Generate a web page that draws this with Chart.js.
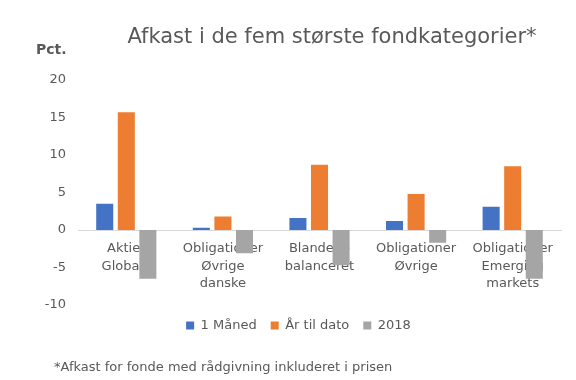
<!DOCTYPE html>
<html>
<head>
<meta charset="utf-8">
<script src="https://cdn.jsdelivr.net/npm/chart.js@4.4.1/dist/chart.umd.min.js"></script>
<style>
  html, body { margin: 0; padding: 0; background: #fff; }
  #wrap { width: 576px; height: 380px; }
</style>
</head>
<body>
<div id="wrap"><canvas id="afkastChart" width="576" height="380"></canvas></div>
<script>
const categories = [
    ["Aktier", "Globale"],
    ["Obligationer", "Øvrige", "danske"],
    ["Blandede", "balanceret"],
    ["Obligationer", "Øvrige"],
    ["Obligationer", "Emerging", "markets"],
];
const maaned = [3.5, 0.3, 1.6, 1.2, 3.1];
const aarTilDato = [15.7, 1.8, 8.7, 4.8, 8.5];
const aar2018 = [-6.5, -3.1, -4.7, -1.7, -6.5];
const yTicks = [-10, -5, 0, 5, 10, 15, 20];

const textColor = "#595959";
const fontFamily = "'DejaVu Sans', sans-serif";

// Titel, "Pct." og fodnote
const extraText = {
    id: "extraText",
    afterDraw(chart) {
        const ctx = chart.ctx;
        ctx.save();
        ctx.fillStyle = textColor;
        ctx.textBaseline = "middle";
        ctx.textAlign = "center";
        ctx.font = "21px " + fontFamily;
        ctx.fillText("Afkast i de fem største fondkategorier*", 332, 38);
        ctx.textAlign = "left";
        ctx.font = "bold 14px " + fontFamily;
        ctx.fillText("Pct.", 36, 50);
        ctx.font = "13px " + fontFamily;
        ctx.fillText("*Afkast for fonde med rådgivning inkluderet i prisen", 54, 368);
        ctx.restore();
    },
};

Chart.defaults.font.family = fontFamily;
Chart.defaults.color = textColor;

new Chart(document.getElementById("afkastChart"), {
    type: "bar",
    data: {
        labels: categories,
        datasets: [
            { label: "1 Måned", data: maaned, backgroundColor: "#4472C4" },
            { label: "År til dato", data: aarTilDato, backgroundColor: "#ED7D31" },
            { label: "2018", data: aar2018, backgroundColor: "#A5A5A5" },
        ],
    },
    options: {
        responsive: false,
        animation: false,
        categoryPercentage: 0.67,
        barPercentage: 0.79,
        layout: {
            padding: { top: 80, right: 15, bottom: 38, left: 36 },
        },
        plugins: {
            legend: {
                position: "bottom",
                labels: {
                    boxWidth: 8,
                    boxHeight: 8,
                    padding: 14,
                    font: { size: 13 },
                    color: textColor,
                },
            },
            tooltip: { enabled: false },
        },
        scales: {
            x: {
                position: { y: 0 },
                afterFit(scale) {
                    scale.height = 0;
                },
                grid: { display: false, drawTicks: false },
                border: { display: true, color: "#D9D9D9", width: 1 },
                ticks: {
                    padding: 10,
                    font: { size: 13, lineHeight: 1.35 },
                    color: textColor,
                    maxRotation: 0,
                    autoSkip: false,
                },
            },
            y: {
                min: -10,
                max: 20,
                afterBuildTicks(scale) {
                    scale.ticks = yTicks.map((v) => ({ value: v }));
                },
                afterFit(scale) {
                    scale.width = 42;
                },
                grid: { display: false, drawTicks: false },
                border: { display: false },
                ticks: {
                    padding: 12,
                    font: { size: 13 },
                    color: textColor,
                },
            },
        },
    },
    plugins: [extraText],
});
</script>
</body>
</html>
